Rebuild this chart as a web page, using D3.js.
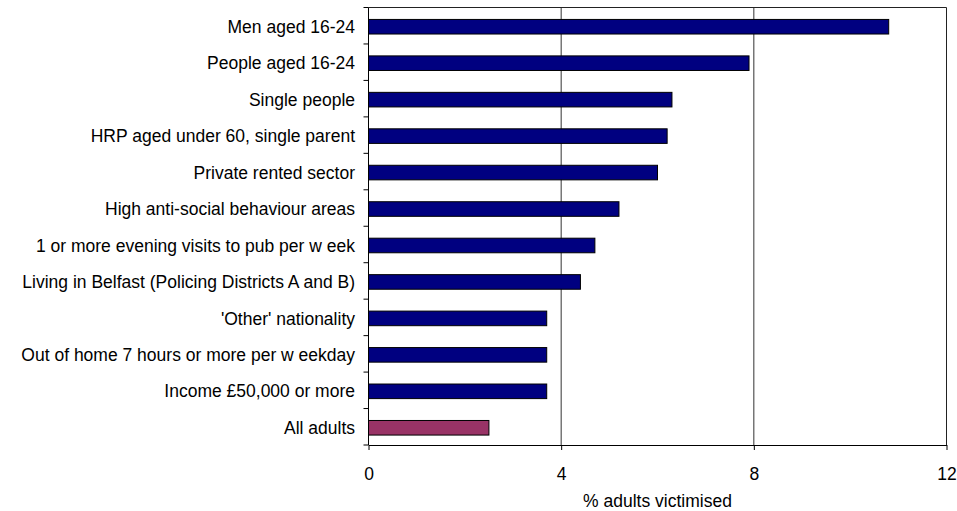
<!DOCTYPE html>
<html>
<head>
<meta charset="utf-8">
<script src="https://cdn.jsdelivr.net/npm/d3@7"></script>
<style>
  body { margin: 0; background: #fff; }
  svg { display: block; font-family: "Liberation Sans", Arial, sans-serif; }
</style>
</head>
<body>
<svg id="chart" width="957" height="511"></svg>
<script>
const categories = [
  "Men aged 16-24",
  "People aged 16-24",
  "Single people",
  "HRP aged under 60, single parent",
  "Private rented sector",
  "High anti-social behaviour areas",
  "1 or more evening visits to pub per w eek",
  "Living in Belfast (Policing Districts A and B)",
  "'Other' nationality",
  "Out of home 7 hours or more per w eekday",
  "Income £50,000 or more",
  "All adults"
];
const values = [10.8, 7.9, 6.3, 6.2, 6.0, 5.2, 4.7, 4.4, 3.7, 3.7, 3.7, 2.5];
const highlight = ["All adults"];
const xTicks = [0, 4, 8, 12];
const xTitle = "% adults victimised";

const svg = d3.select("#chart");
const m = { left: 368.5, right: 946.5, top: 7.5, bottom: 445 };

const x = d3.scaleLinear().domain([0, 12]).range([m.left, m.right]);
const y = d3.scaleBand().domain(categories).range([m.top, m.bottom])
  .paddingInner(0.6).paddingOuter(0.3);
const step = y.step();
const bandTop = c => y(c) - y.paddingOuter() * step;

// gridlines
svg.append("g").selectAll("line").data(xTicks.filter(t => t > 0 && t < 12)).join("line")
  .attr("x1", d => x(d)).attr("x2", d => x(d))
  .attr("y1", m.top).attr("y2", m.bottom)
  .attr("stroke", "#333").attr("stroke-width", 1);

// plot border (top + right)
svg.append("path")
  .attr("d", `M${m.left},${m.top}H${m.right}V${m.bottom}`)
  .attr("fill", "none").attr("stroke", "#222").attr("stroke-width", 1);

// bars
svg.append("g").selectAll("rect").data(categories).join("rect")
  .attr("x", x(0))
  .attr("y", d => y(d) + 1)
  .attr("width", (d, i) => x(values[i]) - x(0))
  .attr("height", y.bandwidth())
  .attr("fill", d => highlight.includes(d) ? "#993366" : "#000080")
  .attr("stroke", "#000").attr("stroke-width", 1);

// x axis
const xAxis = svg.append("g").attr("transform", `translate(0,${m.bottom})`)
  .call(d3.axisBottom(x).tickValues(xTicks).tickSize(5).tickSizeOuter(0).tickPadding(18));
xAxis.attr("font-size", 17.5).attr("font-family", "Liberation Sans, Arial, sans-serif");
xAxis.select(".domain").attr("stroke", "#000");
xAxis.selectAll(".tick line").attr("stroke", "#000");
xAxis.selectAll(".tick text").attr("fill", "#000").style("font-size", "17.5px");

// y axis line and ticks at band boundaries
svg.append("line").attr("x1", m.left).attr("x2", m.left)
  .attr("y1", m.top).attr("y2", m.bottom).attr("stroke", "#000");
const boundaries = categories.map(bandTop).concat([m.bottom]);
svg.append("g").selectAll("line").data(boundaries).join("line")
  .attr("x1", m.left - 5).attr("x2", m.left)
  .attr("y1", d => d).attr("y2", d => d).attr("stroke", "#000");

// category labels
svg.append("g").selectAll("text").data(categories).join("text")
  .attr("x", m.left - 13.5)
  .attr("y", d => y(d) + y.bandwidth() / 2 + 1)
  .attr("dy", "0.35em")
  .attr("text-anchor", "end")
  .attr("font-size", "17.5px")
  .attr("fill", "#000")
  .text(d => d);

// x title
svg.append("text")
  .attr("x", (m.left + m.right) / 2)
  .attr("y", 507)
  .attr("text-anchor", "middle")
  .attr("font-size", "17.5px")
  .attr("fill", "#000")
  .text(xTitle);
</script>
</body>
</html>
